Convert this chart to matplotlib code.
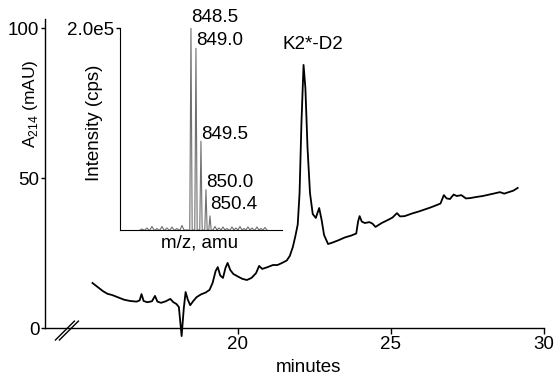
import matplotlib.pyplot as plt

plt.rcParams['font.family'] = ['Liberation Sans', 'DejaVu Sans']

# chromatogram (minutes, mAU)
minutes = [15.26, 15.45, 15.6, 15.75, 15.9, 16.1, 16.3, 16.5, 16.7, 16.8, 16.86, 16.93,
           17.05, 17.2, 17.3, 17.38, 17.5, 17.65, 17.8, 17.9, 18.0, 18.08, 18.17, 18.24,
           18.3, 18.37, 18.45, 18.55, 18.66, 18.8, 18.95, 19.08, 19.18, 19.28, 19.35, 19.43,
           19.52, 19.6, 19.67, 19.76, 19.86, 20.0, 20.15, 20.3, 20.45, 20.6, 20.7, 20.8,
           20.95, 21.15, 21.3, 21.45, 21.6, 21.7, 21.8, 21.88, 21.96, 22.02, 22.08, 22.15,
           22.21, 22.28, 22.36, 22.45, 22.55, 22.66, 22.74, 22.82, 22.95, 23.1, 23.3, 23.5,
           23.7, 23.87, 23.93, 23.98, 24.05, 24.15, 24.3, 24.4, 24.5, 24.7, 24.9, 25.05,
           25.2, 25.3, 25.45, 25.7, 25.9, 26.1, 26.3, 26.5, 26.62, 26.73, 26.82, 26.93,
           27.05, 27.15, 27.3, 27.45, 27.58, 27.8, 28.0, 28.13, 28.35, 28.56, 28.7, 28.85,
           29.0, 29.14]
absorb = [15.0, 13.5, 12.3, 11.4, 11.0, 10.2, 9.4, 9.0, 8.8, 9.2, 11.3, 9.0,
          8.6, 8.9, 10.7, 8.8, 8.4, 8.9, 9.7, 8.6, 8.0, 7.0, -2.7, 6.5,
          12.0, 9.5, 7.6, 9.0, 10.3, 11.2, 11.8, 12.7, 15.0, 19.0, 20.3, 17.5,
          16.7, 20.0, 21.7, 19.3, 18.0, 17.2, 16.4, 16.0, 16.7, 18.3, 20.7, 19.7,
          20.2, 21.0, 21.0, 21.7, 22.5, 24.0, 27.0, 30.5, 34.5, 45.0, 68.0, 87.7,
          80.0, 60.0, 45.0, 38.0, 36.7, 40.0, 36.0, 31.0, 28.0, 28.5, 29.3, 30.2,
          30.8, 31.5, 35.5, 37.3, 35.5, 35.0, 35.3, 34.8, 33.7, 35.0, 36.0, 36.8,
          38.3, 37.2, 37.3, 38.2, 38.8, 39.5, 40.2, 41.0, 41.5, 44.3, 43.2, 43.0,
          44.5, 44.0, 44.3, 43.2, 43.3, 43.7, 44.0, 44.3, 44.8, 45.3, 44.8, 45.3,
          45.8, 46.7]

# mass spectrum sticks (m/z, cps)
mz = [843.6, 844.1, 844.6, 845.1, 845.6, 846.1, 846.6, 847.1, 847.6,
      848.5, 849.0, 849.5, 850.0, 850.4,
      850.9, 851.3, 851.7, 852.1, 852.6, 853.0, 853.4, 853.8, 854.2, 854.6,
      855.1, 855.5, 855.9]
cps = [0.01e5, 0.02e5, 0.035e5, 0.015e5, 0.035e5, 0.02e5, 0.03e5, 0.015e5, 0.045e5,
       2.0e5, 1.8e5, 0.88e5, 0.40e5, 0.14e5,
       0.035e5, 0.02e5, 0.03e5, 0.015e5, 0.03e5, 0.02e5, 0.035e5, 0.015e5, 0.03e5, 0.02e5,
       0.03e5, 0.015e5, 0.025e5]
peak_labels = ['848.5', '849.0', '849.5', '850.0', '850.4']

FS = 13.5

fig = plt.figure(figsize=(5.57, 3.81), dpi=100)
ax = fig.add_axes([0.0808, 0.1076, 0.8959, 0.8424])
ax.plot(minutes, absorb, color='black', lw=1.3, clip_on=False)
ax.set_xlim(13.71, 30)
ax.set_ylim(-4, 103)
ax.spines['top'].set_visible(False)
ax.spines['right'].set_visible(False)
ax.spines['bottom'].set_position(('data', 0))
ax.spines['left'].set_bounds(0, 103)
for s in ['left', 'bottom']:
    ax.spines[s].set_linewidth(1.0)
ax.set_xticks([20, 25, 30])
ax.set_yticks([0, 50, 100])
ax.tick_params(axis='x', direction='out', length=4, width=1, labelsize=FS, pad=2)
ax.tick_params(axis='y', direction='out', length=3, width=1, labelsize=FS, pad=1)
ax.text(22.3, -13, 'minutes', ha='center', va='center', fontsize=FS)
ax.text(-0.03, 0.735, 'A$_{\\mathregular{214}}$ (mAU)', transform=ax.transAxes,
        rotation=90, ha='center', va='center', fontsize=12.5)
ax.text(22.45, 94.5, 'K2*-D2', ha='center', va='center', fontsize=FS)

# axis break marks
for dx in [0, 0.13]:
    ax.plot([14.05 + dx, 14.67 + dx], [-4, 2.3], color='black', lw=1.0, clip_on=False)

# inset spectrum
ins = fig.add_axes([0.2154, 0.3963, 0.2908, 0.530])
px, py = [], []
for m, c in zip(mz, cps):
    w = 0.12 if c > 0.1e5 else 0.2
    px += [m - w, m, m + w]
    py += [0, c, 0]
ins.plot(px, py, color='#707070', lw=0.8)
ins.set_xlim(841.4, 857.6)
ins.set_ylim(0, 2.0e5)
ins.spines['top'].set_visible(False)
ins.spines['right'].set_visible(False)
ins.set_xticks([])
ins.set_yticks([2.0e5])
ins.set_yticklabels(['2.0e5'])
ins.tick_params(direction='out', length=3, width=1, labelsize=FS, pad=1)
ins.patch.set_alpha(0)
label_y = [2.1e5, 1.88e5, 0.95e5, 0.47e5, 0.25e5]
for m, ly, lab in zip(mz[9:14], label_y, peak_labels):
    ins.text(m + 0.05, ly, lab, ha='left', va='center', fontsize=FS)
ins.text(-0.155, 0.53, 'Intensity (cps)', transform=ins.transAxes, rotation=90,
         ha='center', va='center', fontsize=FS)
ins.text(0.494, -0.065, 'm/z, amu', transform=ins.transAxes,
         ha='center', va='center', fontsize=FS)

fig.savefig('out.png', dpi=100)
